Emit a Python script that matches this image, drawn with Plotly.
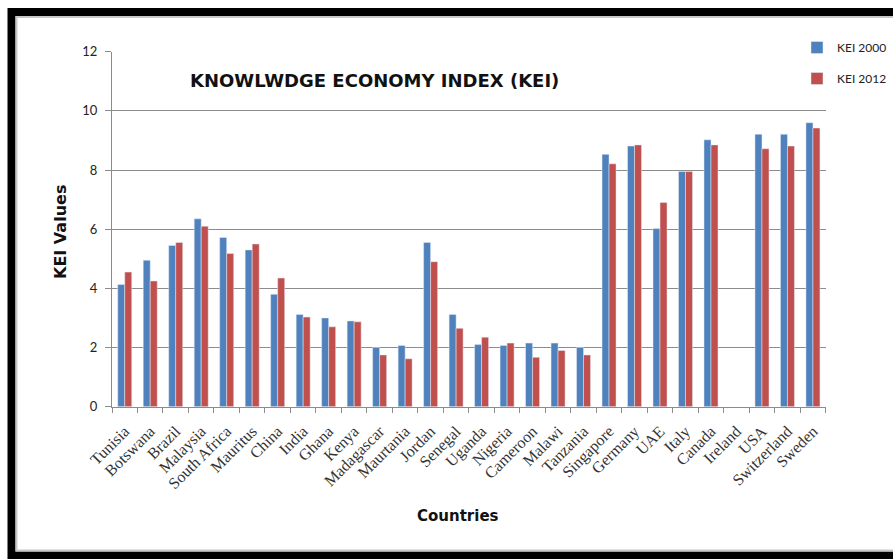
import plotly.graph_objects as go

# Knowledge Economy Index by country, 2000 vs 2012
countries = ["Tunisia", "Botswana", "Brazil", "Malaysia", "South Africa", "Mauritus",
             "China", "India", "Ghana", "Kenya", "Madagascar", "Maurtania", "Jordan",
             "Senegal", "Uganda", "Nigeria", "Cameroon", "Malawi", "Tanzania",
             "Singapore", "Germany", "UAE", "Italy", "Canada", "Ireland", "USA",
             "Switzerland", "Sweden"]
kei_2000 = [4.13, 4.95, 5.45, 6.35, 5.72, 5.30, 3.80, 3.12, 3.00, 2.90, 2.00, 2.07,
            5.55, 3.12, 2.10, 2.07, 2.15, 2.15, 2.00, 8.53, 8.81, 6.02, 7.95, 9.02,
            None, 9.21, 9.21, 9.60]
kei_2012 = [4.55, 4.25, 5.55, 6.10, 5.18, 5.50, 4.35, 3.03, 2.70, 2.87, 1.75, 1.62,
            4.90, 2.65, 2.35, 2.15, 1.67, 1.90, 1.75, 8.21, 8.85, 6.90, 7.95, 8.85,
            None, 8.72, 8.81, 9.42]
y_ticks = [0, 2, 4, 6, 8, 10, 12]

W, H = 893, 559
BLUE = "#4F81BD"
RED = "#C0504D"
GRID = "#8C8C8C"
BOLD_FONT = "DejaVu Sans, Liberation Sans, sans-serif"

fig = go.Figure()
fig.add_trace(go.Bar(x=countries, y=kei_2000, name="KEI 2000", marker_color=BLUE,
                     legendgroup="a"))
fig.add_trace(go.Bar(x=countries, y=kei_2012, name="KEI 2012", marker_color=RED,
                     legendgroup="b"))


def px(x):
    return x / W


def py(y):
    return 1 - y / H


def label(text, x, y, size, angle=0):
    return dict(text=f"<b>{text}</b>", x=px(x), y=py(y), textangle=angle,
                xref="paper", yref="paper", xanchor="center", yanchor="middle",
                showarrow=False, font=dict(family=BOLD_FONT, size=size, color="#111"))


fig.update_layout(
    width=W, height=H,
    margin=dict(l=0, r=0, t=0, b=0, autoexpand=False),
    paper_bgcolor="white", plot_bgcolor="white",
    barmode="group", bargap=0.45, bargroupgap=0,
    font=dict(family="Liberation Sans, Arial, sans-serif", color="#222"),
    legend=dict(x=px(797), y=py(33), xanchor="left", yanchor="top",
                font=dict(family="Lato, Liberation Sans, sans-serif", size=12, color="#222"),
                tracegroupgap=12, itemwidth=30, bgcolor="rgba(0,0,0,0)",
                traceorder="grouped"),
    xaxis=dict(
        domain=[px(112), px(825.7)],
        automargin=False,
        tickangle=-45,
        tickfont=dict(family="Liberation Serif, Times New Roman, serif", size=16, color="#333"),
        ticklabelstandoff=8,
        ticks="outside", tickson="boundaries", ticklen=5, tickcolor=GRID,
        showline=True, linecolor=GRID, linewidth=1,
        showgrid=False,
    ),
    yaxis=dict(
        domain=[py(406.7), py(51.7)],
        automargin=False,
        range=[0, 12],
        tickvals=y_ticks,
        tickfont=dict(family="Lato, Liberation Sans, sans-serif", size=13, color="#222"),
        ticklabelstandoff=5,
        ticks="outside", ticklen=6, tickcolor=GRID,
        showline=True, linecolor=GRID, linewidth=1,
        showgrid=True, gridcolor=GRID, gridwidth=1,
        zeroline=False,
    ),
    annotations=[
        label("KNOWLWDGE ECONOMY INDEX (KEI)", 374, 80, 18),
        label("Countries", 458, 516, 15),
        label("KEI Values", 60, 232, 16, angle=-90),
    ],
    shapes=[
        # outer black frame
        dict(type="rect", xref="paper", yref="paper",
             x0=px(11.5), x1=px(910), y0=py(555.5), y1=py(12),
             line=dict(color="black", width=8), fillcolor="rgba(0,0,0,0)"),
        # soft inner edge of the frame
        dict(type="rect", xref="paper", yref="paper",
             x0=px(16.5), x1=px(905), y0=py(550.5), y1=py(17),
             line=dict(color="#C8C8C8", width=2), fillcolor="rgba(0,0,0,0)"),
    ],
)

fig.write_html("out.html")
